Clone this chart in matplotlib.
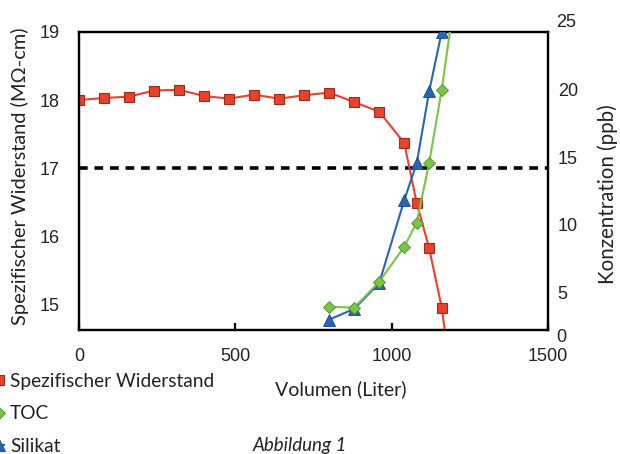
import numpy as np
import matplotlib
matplotlib.use("Agg")
import matplotlib.pyplot as plt

# Spezifischer Widerstand (linke Achse, MOhm-cm)
vol_res = [0, 80, 160, 240, 320, 400, 480, 560, 640, 720, 800, 880, 960, 1040, 1080, 1120, 1160, 1200]
res = [18.0, 18.03, 18.05, 18.14, 18.15, 18.06, 18.02, 18.08, 18.02, 18.07, 18.11, 17.97, 17.83,
       17.37, 16.49, 15.82, 14.95, 13.6]

# TOC und Silikat (rechte Achse, ppb)
vol_toc = [800, 880, 960, 1040, 1080, 1120, 1160, 1200]
toc = [3.9, 3.85, 5.75, 8.35, 10.15, 14.6, 20.0, 26.6]
vol_sil = [800, 880, 960, 1040, 1080, 1120, 1160]
sil = [2.95, 3.75, 5.65, 11.8, 14.55, 19.9, 24.3]

x_ticks = [0, 500, 1000, 1500]
left_ticks = [15, 16, 17, 18, 19]
right_ticks = [5, 10, 15, 20]
limit = 17

red, red_e = "#e8412c", "#9a2a1c"
green, green_e = "#7cc544", "#4b8f2a"
blue, blue_e = "#2766b5", "#1b4585"

tick_font = "Liberation Sans"
text_font = "Lato"

fig = plt.figure(figsize=(6.2, 4.54), dpi=100)
ax = fig.add_axes([79 / 620, 1 - 330 / 454, 469 / 620, 298 / 454])
ax2 = ax.twinx()

l1, = ax.plot(vol_res, res, color=red, lw=1.5, marker="s", ms=7, mfc=red, mec=red_e, mew=0.8,
              label="Spezifischer Widerstand", zorder=3)
ax.axhline(limit, color="black", lw=2.6, dashes=(2.4, 1.9), zorder=2)
l3, = ax2.plot(vol_sil, sil, color=blue, lw=1.5, marker="^", ms=8, mfc=blue, mec=blue_e, mew=0.6,
               label="Silikat", zorder=3)
l2, = ax2.plot(vol_toc, toc, color=green, lw=1.5, marker="D", ms=6, mfc=green, mec=green_e, mew=0.6,
               label="TOC", zorder=4)

ax.set_xlim(0, 1500)
ax.set_ylim(14.62, 19.0)
ax2.set_ylim(2.18, 24.3)

ax.set_xticks(x_ticks)
ax.set_yticks(left_ticks)
ax2.set_yticks(right_ticks)
for a in (ax, ax2):
    for s in a.spines.values():
        s.set_linewidth(1.6)
        s.set_color("black")
ax.tick_params(axis="x", direction="in", length=5, width=1.6, pad=13)
ax.tick_params(axis="y", length=0, pad=14)
ax2.tick_params(axis="y", length=0, pad=7)
for lab in ax.get_xticklabels() + ax.get_yticklabels() + ax2.get_yticklabels():
    lab.set_fontfamily(tick_font)
    lab.set_fontsize(13)
    lab.set_color("#222222")

# Randbeschriftungen 25 und 0 der rechten Achse liegen ausserhalb des Achsenbereichs
ax2.text(1.0 + 8 / 469, 25, "25", transform=ax2.get_yaxis_transform(), ha="left", va="center",
         fontsize=13, fontfamily=tick_font, color="#222222", clip_on=False)
ax2.text(1.0 + 8 / 469, 1.66, "0", transform=ax2.get_yaxis_transform(), ha="left", va="center",
         fontsize=13, fontfamily=tick_font, color="#222222", clip_on=False)

ax.set_xlabel("Volumen (Liter)", fontfamily=text_font, fontsize=14, color="#222222")
ax.xaxis.set_label_coords((341 - 79) / 469, (330 - 389) / 298)
ax.xaxis.label.set_verticalalignment("center")
ax.set_ylabel("Spezifischer Widerstand (MΩ-cm)", fontfamily=text_font, fontsize=14.4, color="#222222")
ax.yaxis.set_label_coords((20 - 79) / 469, (330 - 176) / 298)
ax.yaxis.label.set_verticalalignment("center")
ax2.set_ylabel("Konzentration (ppb)", fontfamily=text_font, fontsize=14.8, color="#222222")
ax2.yaxis.set_label_coords((608 - 79) / 469, (330 - 194) / 298)
ax2.yaxis.label.set_verticalalignment("center")

fig.legend(handles=[l1, l2, l3], loc="upper left", bbox_to_anchor=(-7 / 620, 1 - 373 / 454),
           frameon=False, handlelength=0.6, handletextpad=0.3, labelspacing=0.8,
           borderaxespad=0, borderpad=0, prop={"family": text_font, "size": 13.8},
           labelcolor="#222222")

fig.text(253 / 620, 1 - 437 / 454, "Abbildung 1", fontfamily=text_font, fontstyle="italic",
         fontsize=13.5, color="#222222", ha="left", va="top")

fig.savefig("out.png", dpi=100)
